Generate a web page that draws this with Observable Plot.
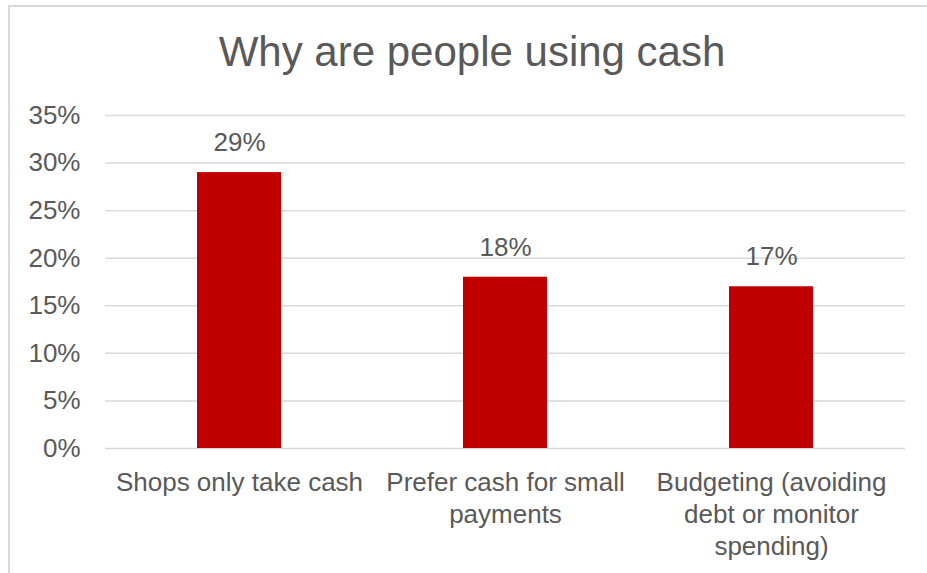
<!DOCTYPE html>
<html>
<head>
<meta charset="utf-8">
<script src="https://cdn.jsdelivr.net/npm/d3@7"></script>
<script src="https://cdn.jsdelivr.net/npm/@observablehq/plot@0.6"></script>
<style>
  html, body { margin: 0; padding: 0; background: #fff; overflow: hidden; width: 927px; height: 573px; }
  #frame { position: absolute; left: 8px; top: 5px; width: 1000px; height: 700px;
           border-top: 2px solid #dadada; border-left: 2px solid #dadada; box-sizing: border-box; }
  #title { position: absolute; left: 0; top: 31px; width: 944px; text-align: center;
           font-family: "Liberation Sans", Arial, sans-serif; font-size: 42px; line-height: 42px; color: #595959; white-space: nowrap; }
  #chart { position: absolute; left: 0; top: 80px; }
</style>
</head>
<body>
<div id="frame"></div>
<div id="title">Why are people using cash</div>
<div id="chart"></div>
<script>
const categories = ["Shops only take cash", "Prefer cash for small payments", "Budgeting (avoiding debt or monitor spending)"];
const categoryLabels = ["Shops only take cash", "Prefer cash for small\npayments", "Budgeting (avoiding\ndebt or monitor\nspending)"];
const values = [0.29, 0.18, 0.17];
const valueLabels = ["29%", "18%", "17%"];
const yTicks = [0, 0.05, 0.10, 0.15, 0.20, 0.25, 0.30, 0.35];
const yTickLabels = ["0%", "5%", "10%", "15%", "20%", "25%", "30%", "35%"];

const data = categories.map((c, i) => ({category: c, value: values[i], label: valueLabels[i]}));

const chart = Plot.plot({
  width: 927,
  height: 493,
  marginTop: 35,
  marginBottom: 125,
  marginLeft: 105,
  marginRight: 22,
  style: {fontFamily: "'Liberation Sans', Arial, sans-serif", fontSize: "26px", color: "#595959", background: "transparent", overflow: "visible"},
  x: {domain: categories, paddingInner: 0.685, paddingOuter: 0.3425, align: 0.5},
  y: {domain: [0, 0.35]},
  marks: [
    Plot.gridY(yTicks, {stroke: "#d9d9d9", strokeOpacity: 1, strokeWidth: 1.5}),
    Plot.barY(data, {x: "category", y: "value", fill: "#C00000"}),
    Plot.text(data, {x: "category", y: "value", text: "label", dy: -30, fontSize: 26, fill: "#595959"}),
    Plot.axisY(yTicks, {tickSize: 0, tickPadding: 25, fontSize: 26, tickFormat: (d) => yTickLabels[yTicks.indexOf(d)], label: null}),
    Plot.axisX({tickSize: 0, tickPadding: 20, fontSize: 26, lineHeight: 1.23, tickFormat: (d) => categoryLabels[categories.indexOf(d)], label: null})
  ]
});
document.getElementById("chart").appendChild(chart);
</script>
</body>
</html>
